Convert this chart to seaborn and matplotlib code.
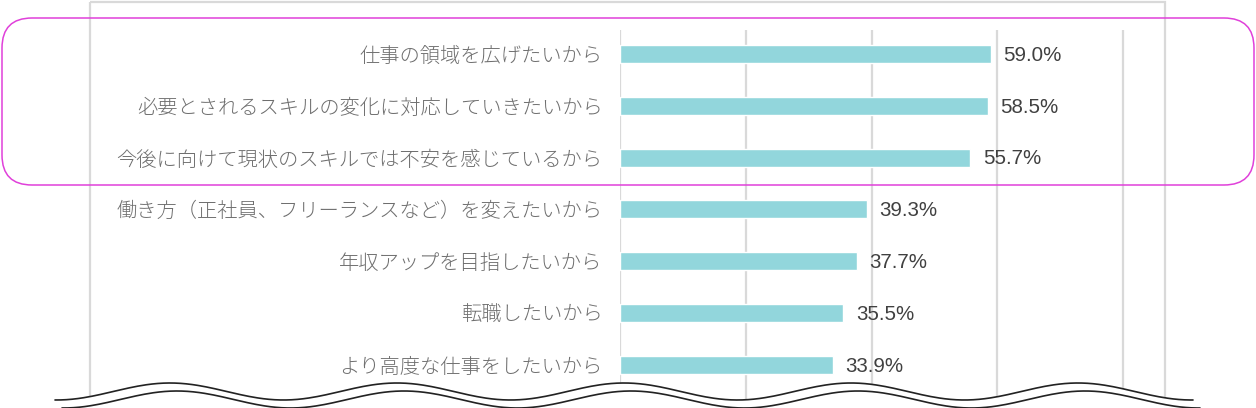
import numpy as np
import pandas as pd
import matplotlib
matplotlib.use("Agg")
import matplotlib.pyplot as plt
import seaborn as sns
from matplotlib.patches import FancyBboxPatch, Rectangle, Polygon
from matplotlib.lines import Line2D
from matplotlib.transforms import Affine2D

categories = [
    "仕事の領域を広げたいから",
    "必要とされるスキルの変化に対応していきたいから",
    "今後に向けて現状のスキルでは不安を感じているから",
    "働き方（正社員、フリーランスなど）を変えたいから",
    "年収アップを目指したいから",
    "転職したいから",
    "より高度な仕事をしたいから",
]
values = [59.0, 58.5, 55.7, 39.3, 37.7, 35.5, 33.9]
grid_ticks = [0, 20, 40, 60, 80]

W, H = 1256, 408
BAR = "#92d6dc"
GRID = "#d9d9d9"

sns.set_theme(style="white")
plt.rcParams["font.family"] = ["Noto Sans CJK JP", "DejaVu Sans"]

df = pd.DataFrame({"reason": categories, "pct": values})

fig = plt.figure(figsize=(W / 100, H / 100), dpi=100)
fig.patch.set_facecolor("white")

# pixel coords (origin top-left) -> figure
pix = Affine2D().scale(1 / W, -1 / H).translate(0, 1) + fig.transFigure


def fx(x):
    return x / W


def fy(y):
    return 1 - y / H


# axes: zero line at x=620 px, right edge at the frame (1165 px)
ax = fig.add_axes([fx(620), 0, fx(1165) - fx(620), fy(30)])
sns.barplot(data=df, y="reason", x="pct", orient="h", color=BAR,
            width=0.35, saturation=1, ax=ax)
px_per_unit = (1123 - 620) / 80
ax.set_xlim(0, (1165 - 620) / px_per_unit)
ax.set_ylim((408 - 54) / 51.8, -(54 - 30) / 51.8)
ax.set_xticks(grid_ticks)
ax.set_xticklabels([])
ax.grid(axis="x", color=GRID, linewidth=1.6)
ax.set_axisbelow(True)
for s in ax.spines.values():
    s.set_visible(False)
ax.set_xlabel("")
ax.set_ylabel("")
ax.tick_params(axis="y", length=0, pad=12.5, labelsize=14.6, labelcolor="#6e6e6e")
ax.tick_params(axis="x", length=0)
for lab in ax.get_yticklabels():
    lab.set_fontweight("light")

for i, v in enumerate(values):
    ax.annotate(f"{v:.1f}%", xy=(v, i), xytext=(9, -1), textcoords="offset points",
                va="center", ha="left", fontsize=14.8, color="#404040",
                family=["Liberation Sans", "DejaVu Sans"])

# outer chart frame
fig.add_artist(Rectangle((90, 2), 1165 - 90, 420, transform=pix, fill=False,
                         edgecolor=GRID, linewidth=1.6, zorder=3))

# wavy cut at the bottom
xs = np.linspace(55, 1193, 400)
upper = 391.5 - 8.5 * np.cos(2 * np.pi * (xs - 170) / 227)
lower = upper + 8
mask = list(zip(xs, upper)) + [(1193, 420), (55, 420)]
fig.add_artist(Polygon(mask, closed=True, transform=pix,
                       facecolor="white", edgecolor="none", zorder=4))
fig.add_artist(Line2D(xs, upper, transform=pix,
                      color="#222222", linewidth=1.2, zorder=5))
fig.add_artist(Line2D(xs + 7, lower, transform=pix,
                      color="#222222", linewidth=1.2, zorder=5))

# highlight box around the top three reasons
fig.add_artist(FancyBboxPatch((2, 18), 1252, 167,
                              boxstyle="round,pad=0,rounding_size=30",
                              transform=pix, fill=False,
                              edgecolor="#e040da", linewidth=1.1, zorder=6))

fig.savefig("out.png", dpi=100)
